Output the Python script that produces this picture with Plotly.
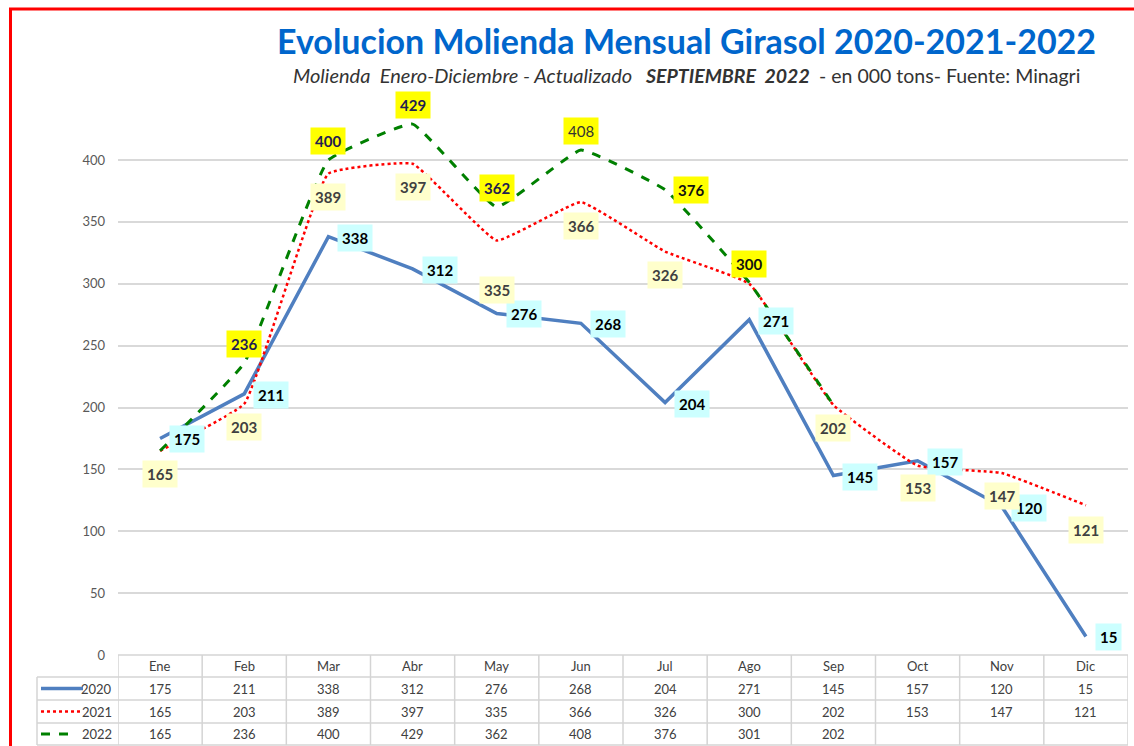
import plotly.graph_objects as go

months = ["Ene", "Feb", "Mar", "Abr", "May", "Jun", "Jul", "Ago", "Sep", "Oct", "Nov", "Dic"]
y2020 = [175, 211, 338, 312, 276, 268, 204, 271, 145, 157, 120, 15]
y2021 = [165, 203, 389, 397, 335, 366, 326, 300, 202, 153, 147, 121]
y2022 = [165, 236, 400, 429, 362, 408, 376, 301, 202, None, None, None]
# data labels shown on the chart (blank = label hidden)
lab2020 = ["175", "211", "338", "312", "276", "268", "204", "271", "145", "157", "120", "15"]
lab2021 = ["165", "203", "389", "397", "335", "366", "326", "", "202", "153", "147", "121"]
lab2022 = ["", "236", "400", "429", "362", "408", "376", "300", "", "", "", ""]
years = ["2020", "2021", "2022"]
yticks = [0, 50, 100, 150, 200, 250, 300, 350, 400]

W, H = 1134, 746
ML, MR, MT, MB = 118, 6, 104, 91
PW, PH = W - ML - MR, H - MT - MB


def px(x):
    return (x - ML) / PW


def py(y):
    return (H - MB - y) / PH


FONT = "Lato"
x = list(range(12))

fig = go.Figure()
fig.add_trace(go.Scatter(x=x, y=y2020, mode="lines", line=dict(color="#4F7FC0", width=3.5),
                         showlegend=False, cliponaxis=False))
fig.add_trace(go.Scatter(x=x, y=y2021, mode="lines", line=dict(color="#FF0000", width=2.5, dash="dot", shape="spline", smoothing=0.3),
                         showlegend=False, cliponaxis=False))
fig.add_trace(go.Scatter(x=x, y=y2022, mode="lines", line=dict(color="#008000", width=3, dash="dash", shape="spline", smoothing=0.3),
                         showlegend=False, cliponaxis=False))

ann = []
C = dict(xanchor="center", yanchor="middle")
# label offsets in pixels (style)
off2021 = [23, 23, 23, 23, 50, 24, 23, 23, 23, 22, 23, 25]
for i in range(12):
    if lab2020[i]:
        ann.append(dict(x=i, y=y2020[i], xref="x", yref="y", text="<b>%s</b>" % lab2020[i], showarrow=False,
                        xanchor="left", yanchor="middle", xshift=9, yshift=-1, bgcolor="#CCFFFF", borderpad=4,
                        font=dict(family=FONT, size=15, color="#000000")))
    if lab2021[i]:
        ann.append(dict(x=i, y=y2021[i], xref="x", yref="y", text="<b>%s</b>" % lab2021[i], showarrow=False,
                        yshift=-off2021[i], bgcolor="#FFFFCC", borderpad=4,
                        font=dict(family=FONT, size=15, color="#404040"), **C))
    if lab2022[i]:
        if i == 6:
            kw = dict(xanchor="left", yanchor="middle", xshift=8, yshift=0)
        else:
            kw = dict(yshift=19, **C)
        ann.append(dict(x=i, y=y2022[i], xref="x", yref="y",
                        text=("%s" if i == 5 else "<b>%s</b>") % lab2022[i], showarrow=False,
                        bgcolor="#FFFF00", borderpad=4,
                        font=dict(family=FONT, size=15, color="#1F2050" if i < 5 else ("#333333" if i == 5 else "#111111")), **kw))

# title and subtitle
ann.append(dict(x=px(686), y=py(40), xref="paper", yref="paper", showarrow=False,
                text="<b>Evolucion Molienda Mensual Girasol 2020-2021-2022</b>",
                font=dict(family=FONT, size=34, color="#0066CC"), **C))
sub_parts = [(291, "<i>Molienda&nbsp; Enero-Diciembre - Actualizado</i>", 20),
             (643, "<b><i>SEPTIEMBRE&nbsp; 2022</i></b>", 19.5),
             (817, "- en 000 tons- Fuente: Minagri", 19.5)]
for sx, st, sz in sub_parts:
    ann.append(dict(x=px(sx), y=py(75), xref="paper", yref="paper", showarrow=False, text=st,
                    xanchor="left", yanchor="middle", font=dict(family=FONT, size=sz, color="#333333")))

shapes = []
GRID = "#D4D4D4"
rows_px = [655, 677, 700, 723, 745]
# table horizontal lines
for j, r in enumerate(rows_px):
    shapes.append(dict(type="line", xref="paper", yref="paper",
                       x0=(0 if j == 0 else px(37)), x1=1, y0=py(r), y1=py(r),
                       line=dict(color=GRID, width=1.5)))
# vertical lines
for k in range(13):
    shapes.append(dict(type="line", xref="x", yref="paper", x0=k - 0.5, x1=k - 0.5,
                       y0=py(655), y1=py(745), line=dict(color=GRID, width=1.5)))
shapes.append(dict(type="line", xref="paper", yref="paper", x0=px(37), x1=px(37),
                   y0=py(677), y1=py(745), line=dict(color=GRID, width=1.5)))

# table text
for k, m in enumerate(months):
    ann.append(dict(x=k, y=py(666), xref="x", yref="paper", text=m, showarrow=False,
                    font=dict(family=FONT, size=13, color="#404040"), **C))
series = [y2020, y2021, y2022]
for j, s in enumerate(series):
    rc = (rows_px[j + 1] + rows_px[j + 2]) / 2
    for k, v in enumerate(s):
        if v is not None:
            ann.append(dict(x=k, y=py(rc), xref="x", yref="paper", text=str(v), showarrow=False,
                            font=dict(family=FONT, size=13, color="#404040"), **C))
    ann.append(dict(x=px(114), y=py(rc), xref="paper", yref="paper", text=years[j], showarrow=False,
                    xanchor="right", yanchor="middle", font=dict(family=FONT, size=13, color="#404040")))

# legend keys
key_styles = [dict(color="#4F7FC0", width=3.5), dict(color="#FF0000", width=2.5, dash="dot"),
              dict(color="#008000", width=3, dash="dash")]
for j in range(3):
    rc = (rows_px[j + 1] + rows_px[j + 2]) / 2
    shapes.append(dict(type="line", xref="paper", yref="paper", x0=px(41), x1=px(83 if j < 2 else 77),
                       y0=py(rc), y1=py(rc), line=key_styles[j]))

# red frame
shapes.append(dict(type="rect", xref="paper", yref="paper", x0=px(10.5), x1=px(1145),
                   y0=py(770), y1=py(9), line=dict(color="#FF0000", width=3)))

fig.update_layout(
    width=W, height=H, margin=dict(l=ML, r=MR, t=MT, b=MB),
    paper_bgcolor="white", plot_bgcolor="white",
    xaxis=dict(range=[-0.5, 11.5], showticklabels=False, showgrid=False, zeroline=False, fixedrange=True),
    yaxis=dict(range=[0, PH / 1.2375], tickvals=yticks, showgrid=True, gridcolor="#D9D9D9", gridwidth=1.5,
               zeroline=False, ticks="", tickfont=dict(family=FONT, size=13, color="#595959"),
               ticklabelstandoff=12),
    annotations=ann, shapes=shapes,
)
fig.write_html("out.html", config={"displayModeBar": False},
               post_script="document.body.style.margin='0px';document.body.style.overflow='hidden';")
